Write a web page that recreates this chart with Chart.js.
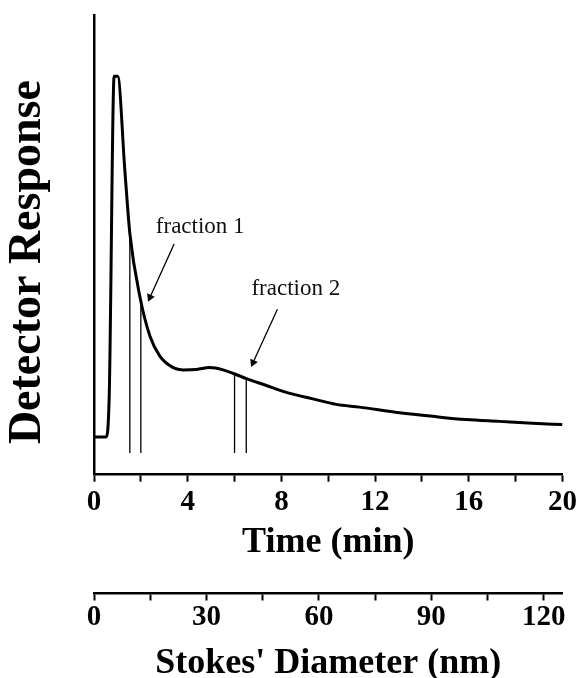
<!DOCTYPE html>
<html>
<head>
<meta charset="utf-8">
<title>Detector Response</title>
<script src="https://cdn.jsdelivr.net/npm/chart.js@4.4.1/dist/chart.umd.min.js"></script>
<style>
  html, body { margin: 0; padding: 0; background: #fff; }
  canvas { display: block; }
</style>
</head>
<body>
<canvas id="myChart" width="580" height="678"></canvas>
<script>
// detector trace
const timeMin = [0, 0.51, 0.65, 0.86, 1.01, 1.32, 1.53, 1.96, 2.39, 2.81, 3.38, 3.80, 4.38, 4.94, 5.51, 6.01, 6.51, 7.36, 8.21, 9.34, 10.34, 11.33, 13.04, 14.46, 15.88, 17.30, 18.72, 20];
const response = [8.2, 8.2, 17.2, 86.7, 86.7, 66.0, 52.5, 38.7, 30.1, 25.8, 23.3, 22.8, 22.9, 23.3, 22.8, 21.9, 20.9, 19.4, 17.9, 16.5, 15.3, 14.7, 13.5, 12.7, 12.0, 11.6, 11.2, 10.9];

// fraction cut lines
const cutTimes = [1.53, 2.0, 6.0, 6.5];
const cutTops = [52.5, 38.0, 21.9, 20.9];
const cutBase = 4.7;

// annotations
const labelText = ['fraction 1', 'fraction 2'];
const labelX = [2.64, 6.72];
const labelY = [52.5, 39.1];
const arrowFrom = [[3.42, 50.2], [7.83, 36.0]];
const arrowTo = [[2.39, 38.6], [6.79, 24.4]];

// axes
const timeRange = [0, 20];
const diameterRange = [0, 125];

const serif = '"Liberation Serif", "Times New Roman", serif';

class ResponseChart {
  constructor() {
    const thisChart = this;
    thisChart.canvas = document.getElementById('myChart');
    thisChart.renderChart();
  }

  buildDatasets() {
    const datasets = [{
      data: timeMin.map((t, i) => ({x: t, y: response[i]})),
      borderColor: '#000',
      borderWidth: 3,
      pointRadius: 0,
      cubicInterpolationMode: 'monotone',
    }];

    cutTimes.forEach((t, i) => {
      datasets.push({
        data: [{x: t, y: cutBase}, {x: t, y: cutTops[i]}],
        borderColor: '#000',
        borderWidth: 1.3,
        pointRadius: 0,
      });
    });

    arrowFrom.forEach((from, i) => {
      datasets.push({
        data: [{x: from[0], y: from[1]}, {x: arrowTo[i][0], y: arrowTo[i][1]}],
        borderColor: '#000',
        backgroundColor: '#000',
        borderWidth: 1.3,
        pointStyle: 'triangle',
        pointRadius: [0, 3.5],
        pointRotation: 204,
      });
    });

    return datasets;
  }

  renderChart() {
    const thisChart = this;
    const tickFont = {family: serif, size: 29, weight: 'bold', lineHeight: 1.2};

    const fractionLabels = {
      id: 'fractionLabels',
      afterDatasetsDraw(chart) {
        const ctx = chart.ctx;
        const x = chart.scales.x;
        const y = chart.scales.y;
        ctx.save();
        ctx.font = '23px ' + serif;
        ctx.fillStyle = '#111';
        ctx.textAlign = 'left';
        ctx.textBaseline = 'alphabetic';
        labelText.forEach((text, i) => {
          ctx.fillText(text, x.getPixelForValue(labelX[i]), y.getPixelForValue(labelY[i]));
        });
        ctx.restore();
      }
    };

    thisChart.chart = new Chart(thisChart.canvas.getContext('2d'), {
      type: 'line',
      data: {datasets: thisChart.buildDatasets()},
      plugins: [fractionLabels],
      options: {
        responsive: false,
        animation: false,
        layout: {padding: {top: 15, left: 0, right: 17, bottom: 0}},
        plugins: {legend: {display: false}, tooltip: {enabled: false}},
        elements: {line: {tension: 0}},
        scales: {
          x: {
            type: 'linear',
            position: 'bottom',
            weight: 0,
            min: timeRange[0],
            max: timeRange[1],
            grid: {drawOnChartArea: false, drawTicks: true, tickLength: 7, tickWidth: 2, tickColor: '#000'},
            border: {display: true, color: '#000', width: 2.5},
            ticks: {
              stepSize: 2,
              autoSkip: false,
              maxRotation: 0,
              padding: 3,
              color: '#000',
              font: tickFont,
              callback: v => (v % 4 === 0 ? v : ''),
            },
            title: {
              display: true,
              text: 'Time (min)',
              color: '#000',
              font: {family: serif, size: 36, weight: 'bold', lineHeight: 1},
              padding: {top: 2, bottom: 33},
            },
          },
          x2: {
            type: 'linear',
            position: 'bottom',
            weight: 1,
            min: diameterRange[0],
            max: diameterRange[1],
            grid: {drawOnChartArea: false, drawTicks: true, tickLength: 7, tickWidth: 2, tickColor: '#000'},
            border: {display: true, color: '#000', width: 2.5},
            ticks: {
              stepSize: 15,
              includeBounds: false,
              autoSkip: false,
              maxRotation: 0,
              padding: 2.5,
              color: '#000',
              font: {family: serif, size: 29, weight: 'bold', lineHeight: 1},
              callback: v => (v % 30 === 0 ? v : ''),
            },
            title: {
              display: true,
              text: 'Stokes\' Diameter (nm)',
              color: '#000',
              font: {family: serif, size: 36, weight: 'bold', lineHeight: 0.75},
              padding: {top: 15.3, bottom: 1.2},
            },
          },
          y: {
            type: 'linear',
            min: 0,
            max: 100,
            grid: {display: false, drawTicks: false},
            border: {display: true, color: '#000', width: 2.5},
            ticks: {display: false},
            title: {
              display: true,
              text: 'Detector Response   ',
              color: '#000',
              font: {family: serif, size: 46, weight: 'bold', lineHeight: 1},
              padding: {top: 4.8, bottom: 43.2},
            },
          },
        },
      },
    });
  }
}

new ResponseChart();
</script>
</body>
</html>
